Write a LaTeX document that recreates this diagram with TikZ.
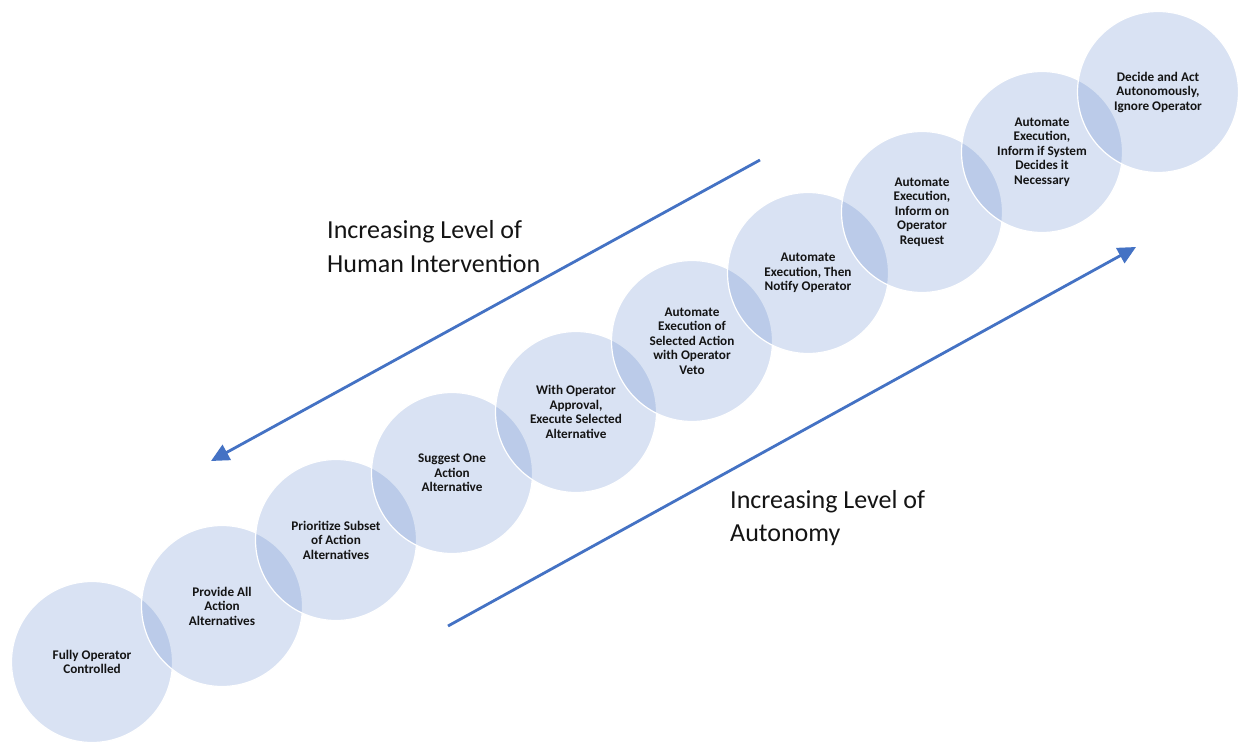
\documentclass[tikz,border=0pt]{standalone}
\usepackage{fontspec}
\setmainfont{Carlito}
\usetikzlibrary{arrows.meta}
\definecolor{arrowblue}{HTML}{4472C4}
\definecolor{textgray}{HTML}{141414}
\tikzset{
  level/.style={circle, minimum size=161pt, inner sep=0pt, fill=arrowblue, fill opacity=0.2,
    draw=white, draw opacity=1, line width=1.2pt, text opacity=1, align=center,
    font=\fontsize{13.2}{14.5}\selectfont\bfseries, text=textgray},
  trendarrow/.style={draw=arrowblue, line width=2.8pt, -{Triangle[length=18pt,width=17pt]}},
  biglabel/.style={anchor=base west, align=left, inner sep=0pt,
    font=\fontsize{26}{33}\selectfont, text=textgray}
}
\begin{document}
\begin{tikzpicture}[x=1pt,y=-1pt]
\useasboundingbox (0,0) rectangle (1238,743);
\fill[white] (0,0) rectangle (1238,743);
\node[level] (c1) at (92,662) {Fully Operator\\Controlled};
\node[level] (c2) at (222,606) {Provide All\\Action\\Alternatives};
\node[level] (c3) at (336,540) {Prioritize Subset\\of Action\\Alternatives};
\node[level] (c4) at (452,473) {Suggest One\\Action\\Alternative};
\node[level] (c5) at (576,412) {With Operator\\Approval,\\Execute Selected\\Alternative};
\node[level] (c6) at (692,341) {Automate\\Execution of\\Selected Action\\with Operator\\Veto};
\node[level] (c7) at (808,273) {Automate\\Execution, Then\\Notify Operator};
\node[level] (c8) at (922,212) {Automate\\Execution,\\Inform on\\Operator\\Request};
\node[level] (c9) at (1042,152) {Automate\\Execution,\\Inform if System\\Decides it\\Necessary};
\node[level] (c10) at (1158,92) {Decide and Act\\Autonomously,\\Ignore Operator};
\coordinate (h1) at (760,160);
\coordinate (h2) at (211,461);
\coordinate (a1) at (448,626);
\coordinate (a2) at (1136,247);
\draw[trendarrow] (h1) -- (h2);
\draw[trendarrow] (a1) -- (a2);
\node[biglabel] (lh) at (327,272) {Increasing Level of\\Human Intervention};
\node[biglabel] (la) at (730,541) {Increasing Level of\\Autonomy};
\end{tikzpicture}
\end{document}
